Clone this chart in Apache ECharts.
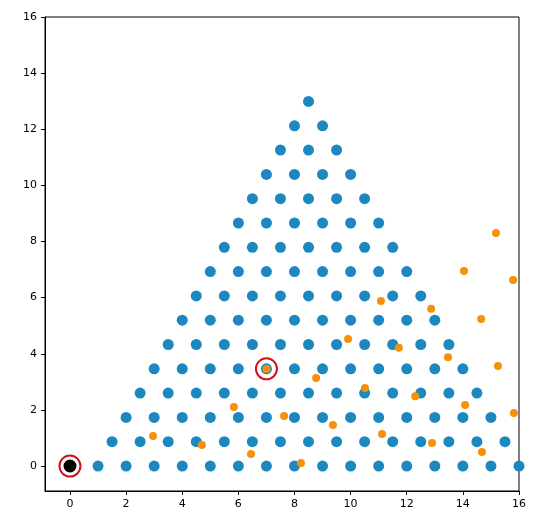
<!DOCTYPE html>
<html><head><meta charset="utf-8">
<script src="https://cdn.jsdelivr.net/npm/echarts@6/dist/echarts.min.js"></script>
<style>html,body{margin:0;background:#fff}#c{width:540px;height:526px}</style>
</head><body><div id="c"></div>
<script>
// lattice rows: row heights and the x positions in each row
const rowY = [0, 0.866, 1.732, 2.598, 3.464, 4.330, 5.196, 6.062, 6.928, 7.794, 8.660, 9.526, 10.392, 11.258, 12.124, 12.990];
const rowX = [
  [1,2,3,4,5,6,7,8,9,10,11,12,13,14,15,16],
  [1.5,2.5,3.5,4.5,5.5,6.5,7.5,8.5,9.5,10.5,11.5,12.5,13.5,14.5,15.5],
  [2,3,4,5,6,7,8,9,10,11,12,13,14,15],
  [2.5,3.5,4.5,5.5,6.5,7.5,8.5,9.5,10.5,11.5,12.5,13.5,14.5],
  [3,4,5,6,7,8,9,10,11,12,13,14],
  [3.5,4.5,5.5,6.5,7.5,8.5,9.5,10.5,11.5,12.5,13.5],
  [4,5,6,7,8,9,10,11,12,13],
  [4.5,5.5,6.5,7.5,8.5,9.5,10.5,11.5,12.5],
  [5,6,7,8,9,10,11,12],
  [5.5,6.5,7.5,8.5,9.5,10.5,11.5],
  [6,7,8,9,10,11],
  [6.5,7.5,8.5,9.5,10.5],
  [7,8,9,10],
  [7.5,8.5,9.5],
  [8,9],
  [8.5]
];
const orangePts = [
  [15.18,8.30],[14.04,6.95],[15.79,6.63],[14.65,5.24],[11.08,5.88],[12.87,5.60],
  [9.91,4.53],[11.72,4.21],[13.47,3.88],[15.25,3.56],[8.77,3.14],[10.51,2.78],
  [12.30,2.49],[7.0,3.46],[5.84,2.10],[7.63,1.78],[14.08,2.17],[15.82,1.89],
  [2.96,1.07],[9.37,1.46],[11.12,1.14],[12.90,0.82],[4.70,0.75],[6.45,0.43],
  [8.23,0.11],[14.68,0.50]
];
const blackPt = [[0,0]];
const ringPts = [[0,0],[7,3.464]];
const ticks = [0,2,4,6,8,10,12,14,16];

const bluePts = [];
rowX.forEach((xs,i)=>xs.forEach(x=>bluePts.push([x,rowY[i]])));

const axisCommon = {
  type:'value', min:-0.89, max:16,
  axisLine:{show:true,onZero:false,lineStyle:{color:'#000',width:1}},
  axisTick:{show:true,customValues:ticks,length:4,lineStyle:{color:'#000'}},
  axisLabel:{customValues:ticks,color:'#000',fontSize:11,fontFamily:'DejaVu Sans'},
  splitLine:{show:false}
};
const chart = echarts.init(document.getElementById('c'));
chart.setOption({
  animation:false,
  grid:{left:45,right:21,top:17,bottom:35,show:true,borderColor:'#000',borderWidth:1},
  xAxis:Object.assign({},axisCommon),
  yAxis:Object.assign({},axisCommon),
  series:[
    {type:'scatter',data:bluePts,symbolSize:11,itemStyle:{color:'#1c88bf',opacity:1},clip:true},
    {type:'scatter',data:orangePts,symbolSize:8,itemStyle:{color:'#f5910a',opacity:1},clip:true},
    {type:'scatter',data:blackPt,symbolSize:13,itemStyle:{color:'#000',opacity:1},clip:false},
    {type:'scatter',data:ringPts,symbolSize:21,itemStyle:{color:'none',borderColor:'#d0101a',borderWidth:2,opacity:1},clip:false}
  ]
});
</script></body></html>
